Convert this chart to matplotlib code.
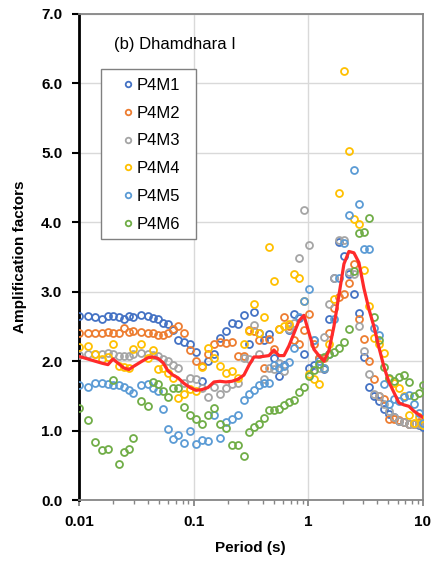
import matplotlib
matplotlib.use("Agg")
import matplotlib.pyplot as plt
from matplotlib.patches import Rectangle
from matplotlib.ticker import FixedLocator, LogLocator, NullFormatter

plt.rcParams["font.family"] = ["Liberation Sans", "DejaVu Sans"]

# spectral periods (s), shared by all records
period = [0.0100, 0.0120, 0.0138, 0.0159, 0.0179, 0.0198, 0.0223, 0.0247, 0.0273, 0.0296,
          0.0347, 0.0400, 0.0442, 0.0488, 0.0540, 0.0597, 0.0660, 0.0730, 0.0823, 0.0928,
          0.1047, 0.1181, 0.1333, 0.1503, 0.1696, 0.1912, 0.2157, 0.2433, 0.2745, 0.3035,
          0.3356, 0.3710, 0.4102, 0.4535, 0.5013, 0.5543, 0.6129, 0.6776, 0.7492, 0.8279,
          0.9155, 1.012, 1.119, 1.237, 1.368, 1.512, 1.672, 1.849, 2.044, 2.259,
          2.498, 2.762, 3.053, 3.376, 3.732, 4.126, 4.562, 5.044, 5.576, 6.165,
          6.816, 7.536, 8.332, 9.211, 10.0]

p4m1 = [2.65, 2.65, 2.64, 2.61, 2.65, 2.65, 2.64, 2.60, 2.65, 2.63,
        2.67, 2.65, 2.62, 2.60, 2.55, 2.54, 2.45, 2.30, 2.27, 2.25,
        2.13, 1.72, 2.00, 2.10, 2.34, 2.44, 2.55, 2.54, 2.66, 2.24,
        2.71, 2.40, 2.31, 2.39, 2.05, 1.79, 1.95, 2.45, 2.68, 2.62,
        2.10, 1.90, 1.95, 2.05, 1.89, 2.61, 3.20, 3.72, 3.52, 3.25,
        2.96, 2.70, 2.06, 1.63, 1.50, 1.43, 1.31, 1.24, 1.20, 1.14,
        1.12, 1.10, 1.10, 1.08, 1.05]
p4m2 = [2.41, 2.41, 2.40, 2.41, 2.42, 2.41, 2.41, 2.48, 2.42, 2.43,
        2.42, 2.41, 2.40, 2.37, 2.38, 2.40, 2.47, 2.51, 2.40, 2.16,
        2.00, 1.93, 2.10, 2.24, 2.28, 2.26, 2.28, 2.08, 2.07, 2.45,
        2.44, 2.30, 1.90, 2.32, 2.17, 2.47, 2.64, 2.50, 2.30, 2.25,
        2.45, 2.68, 2.25, 2.05, 2.05, 2.40, 2.76, 2.93, 2.96, 3.12,
        3.40, 2.61, 2.32, 2.00, 1.75, 1.50, 1.46, 1.17, 1.16, 1.15,
        1.12, 1.10, 1.10, 1.12, 1.12]
p4m3 = [2.09, 2.10, 2.10, 2.11, 2.12, 2.10, 2.08, 2.07, 2.08, 2.10,
        2.12, 2.10, 2.09, 2.08, 2.03, 2.00, 1.95, 1.90, 1.69, 1.76,
        1.75, 1.62, 1.49, 1.63, 1.53, 1.62, 1.67, 1.69, 2.04, 2.03,
        2.52, 2.10, 1.75, 1.90, 1.88, 1.97, 1.86, 2.47, 2.55, 3.49,
        4.18, 3.68, 2.31, 1.90, 2.35, 2.83, 3.20, 3.74, 3.75, 3.28,
        3.26, 2.50, 2.15, 1.82, 1.53, 1.50, 1.39, 1.28, 1.20, 1.14,
        1.12, 1.10, 1.10, 1.10, 1.10]
p4m4 = [2.20, 2.22, 2.10, 2.03, 2.06, 2.25, 1.93, 1.92, 1.90, 2.18,
        2.24, 2.05, 2.16, 1.89, 1.90, 1.83, 1.76, 1.47, 1.53, 1.60,
        1.57, 1.92, 2.19, 2.05, 1.93, 1.83, 1.86, 1.76, 2.25, 2.44,
        2.83, 2.40, 2.64, 3.64, 3.15, 2.47, 2.50, 2.54, 3.26, 3.20,
        2.87, 1.82, 1.75, 1.67, 1.90, 2.25, 2.90, 4.42, 6.18, 5.02,
        4.05, 3.98, 3.32, 2.80, 2.34, 2.24, 2.12, 1.75, 1.68, 1.62,
        1.50, 1.23, 1.11, 1.20, 1.08]
p4m5 = [1.65, 1.63, 1.68, 1.68, 1.67, 1.66, 1.65, 1.63, 1.58, 1.54,
        1.66, 1.67, 1.61, 1.57, 1.31, 1.02, 0.88, 0.93, 0.82, 1.00,
        0.80, 0.87, 0.85, 1.23, 0.89, 1.13, 1.17, 1.22, 1.44, 1.52,
        1.59, 1.65, 1.69, 1.68, 1.94, 1.90, 1.93, 1.99, 2.19, 2.63,
        2.87, 3.04, 2.30, 2.00, 1.90, 2.10, 2.60, 3.20, 3.70, 4.11,
        4.76, 4.27, 3.61, 3.61, 2.48, 2.37, 1.67, 1.39, 1.45, 1.42,
        1.48, 1.51, 1.38, 1.25, 1.11]
p4m6 = [1.33, 1.15, 0.84, 0.72, 0.73, 1.73, 0.52, 0.69, 0.74, 0.89,
        1.42, 1.35, 1.70, 1.67, 1.57, 1.48, 1.61, 1.61, 1.34, 1.22,
        1.17, 1.09, 1.23, 1.33, 1.09, 1.04, 0.79, 0.79, 0.63, 0.98,
        1.05, 1.10, 1.18, 1.29, 1.29, 1.31, 1.37, 1.41, 1.44, 1.55,
        1.63, 1.78, 1.87, 1.96, 2.06, 2.10, 2.13, 2.19, 2.27, 2.46,
        3.30, 3.84, 3.86, 4.06, 2.64, 2.30, 1.92, 1.76, 1.72, 1.77,
        1.80, 1.70, 1.50, 1.54, 1.65]
# average spectrum
mean_af = [2.07, 2.03, 2.00, 1.97, 1.95, 2.03, 1.96, 1.90, 1.88, 1.92,
           1.99, 2.05, 2.06, 2.04, 1.98, 1.86, 1.80, 1.76, 1.68, 1.62,
           1.58, 1.59, 1.62, 1.70, 1.71, 1.70, 1.71, 1.74, 1.80, 1.94,
           2.06, 2.06, 2.07, 2.08, 2.16, 2.08, 2.08, 2.22, 2.40, 2.58,
           2.66, 2.41, 2.17, 2.08, 2.00, 2.15, 2.50, 2.95, 3.40, 3.58,
           3.56, 3.42, 3.05, 2.75, 2.50, 2.20, 1.92, 1.70, 1.55, 1.40,
           1.37, 1.35, 1.28, 1.23, 1.19]

records = ["P4M1", "P4M2", "P4M3", "P4M4", "P4M5", "P4M6"]
values = [p4m1, p4m2, p4m3, p4m4, p4m5, p4m6]
colors = ["#4472C4", "#ED7D31", "#A5A5A5", "#FFC000", "#5B9BD5", "#70AD47"]

fig = plt.figure(figsize=(4.33, 5.62), dpi=100)
ax = fig.add_axes([0.1824, 0.1103, 0.7945, 0.8648])

for name, y, c in zip(records, values, colors):
    ax.plot(period, y, ls="none", marker="o", ms=5, mfc="none", mec=c,
            mew=1.3, label=name, zorder=3)
ax.plot(period, mean_af, color="#FF2A2A", lw=2.3, zorder=4)

ax.set_xscale("log")
ax.set_xlim(0.01, 10)
ax.set_ylim(0, 7)
ax.xaxis.set_major_locator(FixedLocator([0.01, 0.1, 1, 10]))
ax.set_xticklabels(["0.01", "0.1", "1", "10"])
ax.xaxis.set_minor_locator(LogLocator(base=10, subs=range(2, 10)))
ax.xaxis.set_minor_formatter(NullFormatter())
ax.set_yticks(range(8))
ax.set_yticklabels([f"{v:.1f}" for v in range(8)])

ax.grid(True, which="major", color="#D9D9D9", lw=1.0, zorder=0)
ax.set_axisbelow(True)
for s in ("top", "right", "bottom"):
    ax.spines[s].set_color("#868686")
    ax.spines[s].set_linewidth(1.3)
ax.spines["left"].set_color("black")
ax.spines["left"].set_linewidth(2.0)

ax.tick_params(axis="y", which="major", direction="out", length=5, width=1.5,
               color="black", pad=7, labelsize=11)
ax.tick_params(axis="x", which="major", direction="out", length=4, width=1.3,
               color="#868686", pad=7, labelsize=11)
ax.tick_params(axis="x", which="minor", direction="out", length=3, width=1.0,
               color="#868686")
for lab in ax.get_xticklabels() + ax.get_yticklabels():
    lab.set_fontweight("bold")

ax.set_xlabel("Period (s)", fontsize=11, fontweight="bold")
ax.set_ylabel("Amplification factors", fontsize=11, fontweight="bold")
ax.xaxis.set_label_coords(0.497, -0.085)
ax.yaxis.set_label_coords(-0.15, 0.5)

ax.text(0.102, 0.938, "(b) Dhamdhara I", transform=ax.transAxes, fontsize=12,
        ha="left", va="center")

# legend frame drawn separately so the box can be sized freely
ax.add_patch(Rectangle((0.064, 0.537), 0.276, 0.350, transform=ax.transAxes,
                       fill=True, facecolor="white", edgecolor="#808080",
                       lw=1.0, zorder=5))
leg = ax.legend(loc="upper left", bbox_to_anchor=(0.096, 0.886), frameon=False,
                borderpad=0, handlelength=0.9, handletextpad=0.1,
                labelspacing=0.77, fontsize=12, markerscale=0.8)
leg.set_zorder(6)

fig.savefig("out.png", dpi=100)
